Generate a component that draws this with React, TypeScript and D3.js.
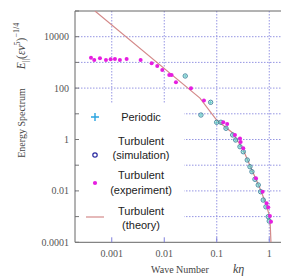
import React, { useEffect, useRef } from "react";
import * as d3 from "d3";

// wave number k*eta and energy spectrum values
const periodicK = [0.0251, 0.05, 0.0765, 0.0995, 0.12, 0.15, 0.201, 0.229, 0.277, 0.32, 0.381, 0.429, 0.468, 0.534, 0.617, 0.686, 0.769, 0.865, 0.957, 1.0];
const periodicE = [296, 8.97, 28, 4.67, 4.67, 2.73, 1.5, 0.957, 0.525, 0.335, 0.159, 0.0875, 0.0559, 0.0283, 0.017, 0.0093, 0.0044, 0.0024, 0.00099, 0.00067];
const simulationE = [296, 8.97, 28, 4.67, 4.67, 2.73, 1.5, 0.957, 0.525, 0.335, 0.159, 0.0875, 0.0559, 0.0283, 0.017, 0.0093, 0.0044, 0.0024, 0.00099, 0.00067];

const experimentK = [0.000402, 0.000464, 0.000596, 0.000776, 0.000953, 0.00115, 0.00143, 0.00192, 0.00355, 0.00575, 0.00736, 0.00917, 0.01245, 0.0138, 0.0167, 0.0323, 0.057, 0.133, 0.158, 0.222, 0.277, 0.285, 0.32, 0.558, 0.748, 0.892, 0.957, 1.03, 1.08];
const experimentE = [1524, 1240, 1445, 1240, 1320, 1356, 1240, 1356, 1240, 922, 724, 506, 323, 323, 168, 98, 33, 4.67, 4.0, 1.5, 1.09, 0.8, 0.455, 0.031, 0.0093, 0.0033, 0.0023, 0.00105, 0.00063];

const theoryK = [0.000479, 0.0479, 0.0995, 0.201, 0.32, 0.468, 0.686, 0.865, 1.0, 1.045, 1.077];
const theoryE = [100000, 41, 5.74, 1.79, 0.39, 0.065, 0.0108, 0.0031, 0.00115, 0.00047, 0.0001];

const xTicks = [0.001, 0.01, 0.1, 1];
const xTickLabels = ["0.001", "0.01", "0.1", "1"];
const yTicks = [0.0001, 0.01, 1, 100, 10000];
const yTickLabels = ["0.0001", "0.01", "1", "100", "10000"];
const yGrid = [0.001, 0.01, 0.1, 1, 10, 100, 1000, 10000];

const legendLabels = [["Periodic"], ["Turbulent", "(simulation)"], ["Turbulent", "(experiment)"], ["Turbulent", "(theory)"]];

function App() {
  const svgRef = useRef<SVGSVGElement>(null);

  useEffect(() => {
    const svg = d3.select(svgRef.current);
    svg.selectAll("*").remove();

    const left = 75, top = 11, bottom = 242.3, right = 285;

    // log scales, one decade ~52.5px on x and ~25.7px on y
    const x = d3.scaleLog().domain([Math.pow(10, -3.7), Math.pow(10, 0.3)]).range([left, right]);
    const y = d3.scaleLog().domain([1e-4, 1e5]).range([bottom, top]);

    const gridColor = "#8a8ae0";

    svg.append("defs").append("clipPath").attr("id", "plotclip")
      .append("rect").attr("x", left).attr("y", top).attr("width", right - left).attr("height", bottom - top);

    // grid
    svg.append("g").selectAll("line").data(yGrid).join("line")
      .attr("x1", left).attr("x2", right)
      .attr("y1", d => y(d)).attr("y2", d => y(d))
      .attr("stroke", gridColor).attr("stroke-width", 0.9).attr("stroke-dasharray", "1.5,1.5");
    svg.append("g").selectAll("line").data(xTicks).join("line")
      .attr("x1", d => x(d)).attr("x2", d => x(d))
      .attr("y1", top).attr("y2", bottom)
      .attr("stroke", gridColor).attr("stroke-width", 0.9).attr("stroke-dasharray", "1.5,1.5");

    // legend box hides grid underneath
    svg.append("rect").attr("x", left + 1).attr("y", 104).attr("width", 108).attr("height", bottom - 105)
      .attr("fill", "white");

    // frame
    const frame = svg.append("g").attr("stroke", "#666").attr("stroke-width", 1).attr("fill", "none");
    frame.append("path").attr("d", `M${right},${top}H${left}V${bottom}H${right}`);

    // ticks
    svg.append("g").selectAll("line").data(yGrid.concat([1e-4, 1e5])).join("line")
      .attr("x1", left).attr("x2", left + 4)
      .attr("y1", d => y(d)).attr("y2", d => y(d))
      .attr("stroke", "#777");
    svg.append("g").selectAll("line").data(xTicks).join("line")
      .attr("x1", d => x(d)).attr("x2", d => x(d))
      .attr("y1", bottom).attr("y2", bottom - 5)
      .attr("stroke", "#7f7fdc");

    // tick labels
    svg.append("g").selectAll("text").data(yTicks).join("text")
      .attr("x", 69).attr("y", d => y(d) + 3.5)
      .attr("text-anchor", "end")
      .attr("font-family", "Liberation Serif, serif").attr("font-size", 10).attr("fill", "#555")
      .text((d, i) => yTickLabels[i]);
    svg.append("g").selectAll("text").data(xTicks).join("text")
      .attr("x", d => x(d)).attr("y", 257)
      .attr("text-anchor", "middle")
      .attr("font-family", "Liberation Serif, serif").attr("font-size", 10).attr("fill", "#555")
      .text((d, i) => xTickLabels[i]);

    // axis titles
    svg.append("text").attr("x", 180).attr("y", 273).attr("text-anchor", "middle")
      .attr("font-family", "Liberation Serif, serif").attr("font-size", 10).attr("fill", "#444")
      .text("Wave Number");
    svg.append("text").attr("x", 233).attr("y", 273)
      .attr("font-family", "Liberation Serif, serif").attr("font-size", 12).attr("font-style", "italic").attr("fill", "#444")
      .text("kη");

    svg.append("text").attr("transform", "translate(25,123) rotate(-90)").attr("text-anchor", "middle")
      .attr("font-family", "Liberation Serif, serif").attr("font-size", 10).attr("fill", "#444")
      .text("Energy Spectrum");
    const eLabel = svg.append("text").attr("transform", "translate(25,46) rotate(-90)").attr("text-anchor", "middle")
      .attr("font-family", "Liberation Serif, serif").attr("font-size", 11.5).attr("fill", "#444");
    eLabel.append("tspan").attr("font-style", "italic").text("E");
    eLabel.append("tspan").attr("font-size", 8).attr("dy", 3).text("||");
    eLabel.append("tspan").attr("dy", -3).text("(");
    eLabel.append("tspan").attr("font-style", "italic").text("εν");
    eLabel.append("tspan").attr("font-size", 8).attr("dy", -5).text("5");
    eLabel.append("tspan").attr("dy", 5).text(")");
    eLabel.append("tspan").attr("font-size", 8).attr("dy", -6).text("−1/4");

    const plot = svg.append("g").attr("clip-path", "url(#plotclip)");

    // theory line
    const line = d3.line<number>().x(i => x(theoryK[i])).y(i => y(theoryE[i]));
    plot.append("path").attr("d", line(d3.range(theoryK.length)))
      .attr("fill", "none").attr("stroke", "#d48a8a").attr("stroke-width", 1.2);

    // simulation circles
    plot.append("g").selectAll("circle").data(d3.range(periodicK.length)).join("circle")
      .attr("cx", i => x(periodicK[i])).attr("cy", i => y(simulationE[i])).attr("r", 2.2)
      .attr("fill", "none").attr("stroke", "#3a7f9a").attr("stroke-width", 0.9);
    // periodic crosses
    const cross = (cx: number, cy: number, s: number) => `M${cx - s},${cy}H${cx + s}M${cx},${cy - s}V${cy + s}`;
    plot.append("path")
      .attr("d", d3.range(periodicK.length).map(i => cross(x(periodicK[i]), y(periodicE[i]), 1.8)).join(""))
      .attr("stroke", "#5cc8c4").attr("stroke-width", 0.9).attr("fill", "none");

    // experiment dots
    plot.append("g").selectAll("circle").data(d3.range(experimentK.length)).join("circle")
      .attr("cx", i => x(experimentK[i])).attr("cy", i => y(experimentE[i])).attr("r", 2)
      .attr("fill", "#e61ee0");

    // legend
    const lg = svg.append("g").attr("font-family", "Liberation Sans, Arial, sans-serif").attr("font-size", 11).attr("fill", "#222");
    const rows = [[121], [145, 159], [179, 194], [215, 229]];
    legendLabels.forEach((lines, i) => {
      lines.forEach((t, j) => {
        lg.append("text").attr("x", 141).attr("y", rows[i][j]).attr("text-anchor", "middle").text(t);
      });
    });
    lg.append("path").attr("d", cross(95, 117, 4)).attr("stroke", "#2aa4e0").attr("stroke-width", 1.4);
    lg.append("circle").attr("cx", 95).attr("cy", 155).attr("r", 2.2).attr("fill", "none").attr("stroke", "#2a2aa0").attr("stroke-width", 1.2);
    lg.append("circle").attr("cx", 95).attr("cy", 183).attr("r", 2.1).attr("fill", "#e61ee0");
    lg.append("line").attr("x1", 86).attr("x2", 104).attr("y1", 217).attr("y2", 217).attr("stroke", "#d48a8a").attr("stroke-width", 1.2);
  }, []);

  return (
    <svg ref={svgRef} width={281} height={277} style={{ position: "absolute", left: 0, top: 0, background: "white" }} />
  );
}

export default App;
